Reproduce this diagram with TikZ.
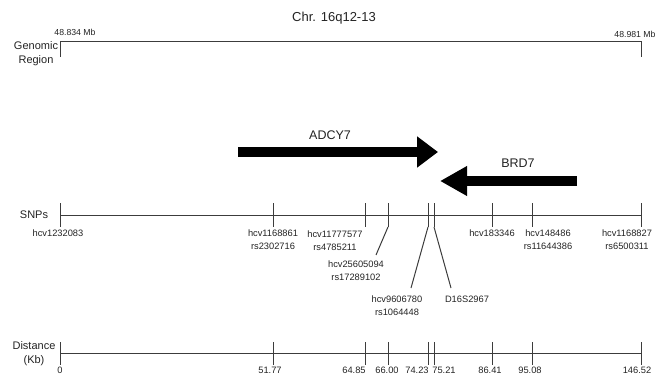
\documentclass[tikz,border=0pt]{standalone}
\usepackage{fontspec}
\setmainfont{Liberation Sans}
\usetikzlibrary{arrows.meta,positioning}
\definecolor{ink}{HTML}{232323}
\definecolor{rule}{HTML}{3C3C3C}

\begin{document}
\begin{tikzpicture}[x=1pt,y=-1pt,
  axis/.style={rule,line width=1pt},
  lbl/.style={text=ink,inner sep=0pt,font=\fontsize{9.3}{12.5}\selectfont,align=center,anchor=north},
  rowname/.style={text=ink,inner sep=0pt,font=\fontsize{11}{14}\selectfont,align=center},
  gene/.style={line width=10pt,-{Triangle[length=21pt,width=30pt]}}]
\useasboundingbox (0,0) rectangle (655,377);
% title and genomic region
\node[rowname,font=\fontsize{13}{15}\selectfont] (title) at (334,18) {Chr. 16q12-13};
\node[rowname] (genlbl) at (36,54) {Genomic\\Region};
\coordinate (g0) at (60,42);
\coordinate (g1) at (641,42);
\draw[axis] ([yshift=-15pt]g0) -- (g0) -- (g1) -- ([yshift=-15pt]g1);
\node[lbl,font=\fontsize{8.7}{10}\selectfont] (mb0) at (75,29) {48.834 Mb};
\node[lbl,font=\fontsize{8.7}{10}\selectfont] (mb1) at (635,31) {48.981 Mb};
% genes
\coordinate (a0) at (238,152);
\coordinate (a1) at (438,152);
\draw[gene] (a0) -- (a1);
\node[rowname,font=\fontsize{12.5}{14}\selectfont] (adcy) at (330,135) {ADCY7};
\coordinate (b0) at (577,181);
\coordinate (b1) at (440,181);
\draw[gene,-{Triangle[length=27pt,width=28pt]}] (b0) -- (b1);
\node[rowname,font=\fontsize{12.5}{14}\selectfont] (brd) at (518,163) {BRD7};
% SNPs
\node[rowname] (snplbl) at (34,215) {SNPs};
\draw[axis] (60,215) -- (641,215);
\foreach \x [count=\i] in {60,273,365,388,428,434,492,532,641}
  \draw[axis] (\x,203) coordinate (s\i) -- (\x,227) coordinate (t\i);
\coordinate (e4) at (376,255);
\coordinate (e5) at (411,288);
\coordinate (e6) at (451,288);
\draw[axis] (t4) -- (e4);
\draw[axis] (t5) -- (e5);
\draw[axis] (t6) -- (e6);
\node[lbl] (l1) at (58,230) {hcv1232083};
\node[lbl] (l2) at (273,230) {hcv1168861\\rs2302716};
\node[lbl] (l3) at (335,231) {hcv11777577\\rs4785211};
\node[lbl] (l4) at (356,261) {hcv25605094\\rs17289102};
\node[lbl] (l5) at (397,296) {hcv9606780\\rs1064448};
\node[lbl] (l6) at (467,296) {D16S2967};
\node[lbl] (l7) at (492,230) {hcv183346};
\node[lbl] (l8) at (548,230) {hcv148486\\rs11644386};
\node[lbl] (l9) at (627,230) {hcv1168827\\rs6500311};
% distance
\node[rowname] (distlbl) at (34,354) {Distance\\(Kb)};
\draw[axis] (60,353) -- (641,353);
\foreach \x/\lx/\d [count=\i] in {60/60/0, 273/270/51.77, 365/354/64.85, 388/387/66.00,
    428/417/74.23, 434/444/75.21, 492/490/86.41, 532/530/95.08, 641/637/146.52}
{
  \draw[axis] (\x,342) -- (\x,365);
  \node[lbl] (d\i) at (\lx,367) {\d};
}
\end{tikzpicture}
\end{document}
